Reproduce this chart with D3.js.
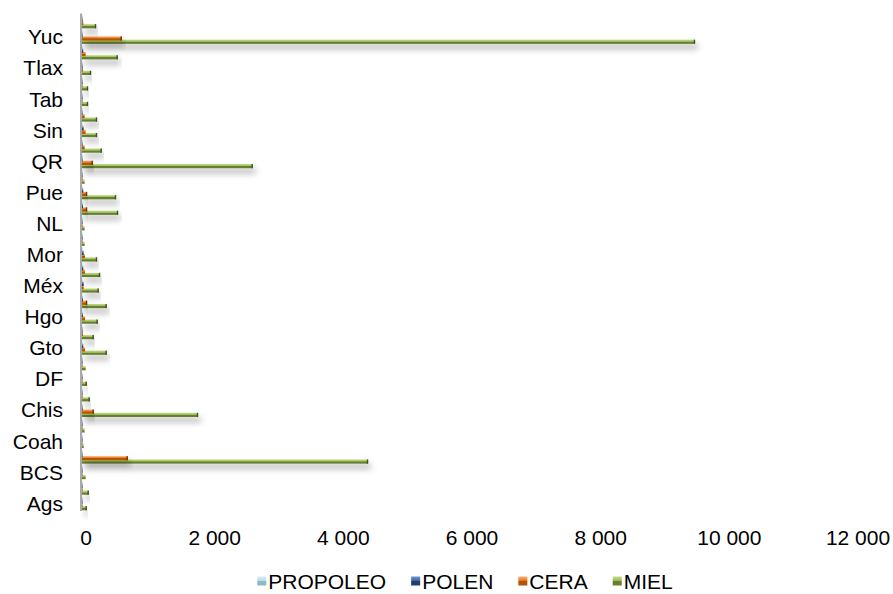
<!DOCTYPE html>
<html>
<head>
<meta charset="utf-8">
<script src="https://cdn.jsdelivr.net/npm/d3@7"></script>
<style>
  html, body { margin: 0; padding: 0; background: #fff; }
  svg { display: block; }
  text { font-family: "Liberation Sans", Arial, sans-serif; fill: #000; }
</style>
</head>
<body>
<svg id="chart" width="893" height="594"></svg>
<script>
// Producción apícola por entidad federativa
const estados = ["Ags","BC","BCS","Camp","Coah","Col","Chis","Chih","DF","Dgo",
  "Gto","Gro","Hgo","Jal","Méx","Mich","Mor","Nay","NL","Oax",
  "Pue","Qro","QR","SLP","Sin","Son","Tab","Tamps","Tlax","Ver","Yuc","Zac"];

const series = ["PROPOLEO","POLEN","CERA","MIEL"];

const propoleo = [2,2,2,5,1,2,5,2,2,2, 5,3,5,5,5,5,5,2,2,5, 5,2,5,3,5,3,2,2,2,5,5,3];
const polen    = [3,3,3,5,2,3,10,5,5,3, 20,5,15,15,26,20,26,3,3,15, 20,5,10,8,26,8,3,5,5,20,10,10];
const cera     = [8,10,8,710,5,8,181,10,8,8, 47,15,47,78,26,47,47,10,10,78, 78,10,166,41,57,41,8,10,15,57,617,20];
const miel     = [73,104,57,4446,26,41,1803,119,73,57, 383,181,243,383,259,280,233,41,41,560, 528,41,2653,306,233,233,93,93,140,555,9528,218];

const xTicks = [0,2000,4000,6000,8000,10000,12000];

const valores = { PROPOLEO: propoleo, POLEN: polen, CERA: cera, MIEL: miel };

const colores = {
  PROPOLEO: { hi: "#d6ecf3", mid: "#b7dee8", lo: "#8fb8c6", end: "#6f97a5" },
  POLEN:    { hi: "#6d95c9", mid: "#3e6aa4", lo: "#1f3f6b", end: "#17304f" },
  CERA:     { hi: "#f9b47a", mid: "#e8771c", lo: "#b35406", end: "#6f3203" },
  MIEL:     { hi: "#c4de86", mid: "#9bbb59", lo: "#667f33", end: "#3f5220" }
};

const FONT = "21px";

const svg = d3.select("#chart");
const defs = svg.append("defs");

// Gradients giving each bar a lit top face and a darker underside
series.forEach(s => {
  const g = defs.append("linearGradient")
    .attr("id", "grad-" + s)
    .attr("x1", 0).attr("y1", 0).attr("x2", 0).attr("y2", 1);
  g.append("stop").attr("offset", "0%").attr("stop-color", colores[s].hi);
  g.append("stop").attr("offset", "45%").attr("stop-color", colores[s].mid);
  g.append("stop").attr("offset", "55%").attr("stop-color", colores[s].lo);
  g.append("stop").attr("offset", "100%").attr("stop-color", colores[s].lo);
});

// Soft drop shadow under the bars
const f = defs.append("filter").attr("id", "sombra")
  .attr("x", "-5%").attr("y", "-100%").attr("width", "115%").attr("height", "600%");
f.append("feDropShadow").attr("dx", 3).attr("dy", 5).attr("stdDeviation", 3)
  .attr("flood-color", "#000").attr("flood-opacity", 0.32);

const x = d3.scaleLinear().domain([0, 12000]).range([82, 854]);

const y = d3.scaleBand().domain(estados).range([511, 13.5]).paddingInner(0).paddingOuter(0);

const inner = d3.scaleBand().domain(series)
  .range([y.bandwidth() * 0.075, y.bandwidth() * 0.925]);

const barH = 4.2;

// Bars: drawn bottom series first so the upper bars sit over the lower ones
const grupos = svg.append("g").attr("class", "barras")
  .selectAll("g").data(estados).join("g")
  .attr("transform", d => `translate(0,${y(d)})`);

series.slice().reverse().forEach(s => {
  const y0 = inner(s) + inner.bandwidth() / 2 - barH / 2;
  grupos.append("rect")
    .attr("x", x(0))
    .attr("y", y0)
    .attr("width", (d, i) => Math.max(0.6, x(valores[s][i]) - x(0)))
    .attr("height", barH)
    .attr("fill", `url(#grad-${s})`)
    .attr("filter", (d, i) => valores[s][i] > 60 ? "url(#sombra)" : null);
  // dark end cap
  grupos.append("rect")
    .attr("x", (d, i) => x(valores[s][i]) - 1.2)
    .attr("y", y0)
    .attr("width", (d, i) => valores[s][i] > 60 ? 1.4 : 0)
    .attr("height", barH)
    .attr("fill", colores[s].end);
});

// Vertical category axis line
svg.append("line")
  .attr("x1", 81).attr("x2", 81)
  .attr("y1", y.range()[1]).attr("y2", y.range()[0])
  .attr("stroke", "#8c8c8c").attr("stroke-width", 1.5);

// Category labels (every other state)
svg.append("g").selectAll("text")
  .data(estados.filter((d, i) => i % 2 === 0))
  .join("text")
  .attr("x", 63)
  .attr("y", d => y(d) + y.bandwidth() / 2)
  .attr("text-anchor", "end")
  .attr("dominant-baseline", "central")
  .style("font-size", FONT)
  .text(d => d);

// Value axis labels
const fmt = v => v === 0 ? "0" : d3.format(",")(v).replace(/,/g, " ");
svg.append("g").selectAll("text")
  .data(xTicks).join("text")
  .attr("x", d => x(d) + 4)
  .attr("y", 537)
  .attr("text-anchor", "middle")
  .attr("dominant-baseline", "central")
  .style("font-size", FONT)
  .text(fmt);

// Legend
const GAP = 25;
const leyenda = svg.append("g").attr("class", "leyenda");
let cx = 0;
series.forEach(s => {
  const it = leyenda.append("g").attr("transform", `translate(${cx},0)`);
  it.append("rect").attr("x", 0).attr("y", -4.5).attr("width", 9).attr("height", 9)
    .attr("fill", `url(#grad-${s})`);
  const t = it.append("text").attr("x", 11).attr("y", 0)
    .attr("dominant-baseline", "central")
    .style("font-size", FONT).text(s);
  cx += 11 + t.node().getComputedTextLength() + GAP;
});
const total = cx - GAP;
leyenda.attr("transform", `translate(${465 - total / 2},581)`);
</script>
</body>
</html>
